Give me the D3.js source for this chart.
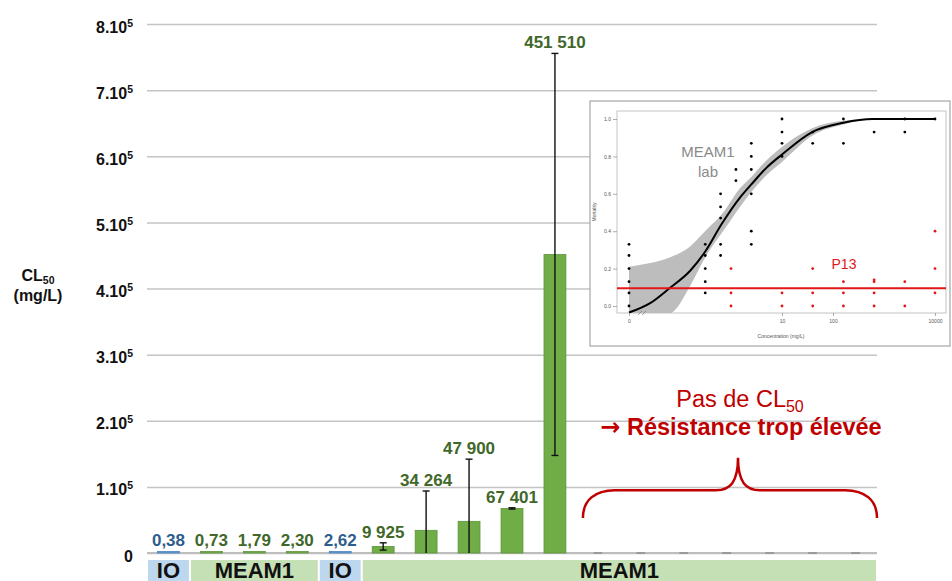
<!DOCTYPE html>
<html>
<head>
<meta charset="utf-8">
<script src="https://cdn.jsdelivr.net/npm/d3@7"></script>
<style>
body { margin: 0; background: #fff; }
svg { display: block; font-family: "Liberation Sans", Arial, sans-serif; }
</style>
</head>
<body>
<svg id="chart" width="952" height="581"></svg>
<script>
// ---- data ----
var categories = ["s1","s2","s3","s4","s5","s6","s7","s8","s9","s10","s11","s12","s13","s14","s15","s16","s17"];
var groupNames = ["IO", "MEAM1", "IO", "MEAM1"];
var groupSizes = [1, 3, 1, 12];
var values = [0.38, 0.73, 1.79, 2.30, 2.62, 9925, 34264, 47900, 67401, 451510, null, null, null, null, null, null, null];
var errors = [0, 0, 0, 0, 0, 5500, 59500, 94000, 1000, 304000, null, null, null, null, null, null, null];
var valueLabels = ["0,38", "0,73", "1,79", "2,30", "2,62", "9 925", "34 264", "47 900", "67 401", "451 510"];
var yTicks = [0, 1e5, 2e5, 3e5, 4e5, 5e5, 6e5, 7e5, 8e5];
var yTickLabels = ["0", "1.10", "2.10", "3.10", "4.10", "5.10", "6.10", "7.10", "8.10"];

// inset (dose-response) data
var labConc = [0,0,0,0,0,0, 0.3125,0.3125,0.3125,0.3125,0.3125, 0.625,0.625,0.625,0.625,0.625,
  1.25,1.25, 2.5,2.5,2.5,2.5,2.5,2.5, 10,10,10,10, 40,40, 160,160, 640, 2560,2560, 10000];
var labMort = [0.33,0.27,0.2,0.13,0.07,0, 0.33,0.27,0.2,0.13,0.07, 0.33,0.27,0.6,0.53,0.47,
  0.73,0.67, 0.87,0.8,0.73,0.6,0.4,0.33, 1,0.93,0.87,0.8, 0.93,0.87, 1,0.87, 0.93, 1,0.93, 1];
var p13Conc = [1,1,1, 10,10, 40,40,40, 160,160,160, 640,640,640,640, 2560,2560, 10000,10000,10000];
var p13Mort = [0.2,0.07,0, 0.07,0, 0.2,0.07,0, 0.13,0.07,0, 0.14,0.13,0.07,0, 0.13,0, 0.4,0.2,0.07];
var p13Fit = 0.095;
var fitConc = [0, 0.026, 0.063, 0.16, 0.31, 0.66, 1.5, 2.5, 5, 10, 39, 160, 600, 10000];
var fitMort = [-0.035, 0.015, 0.096, 0.19, 0.29, 0.44, 0.58, 0.65, 0.74, 0.81, 0.93, 0.98, 1.0, 1.0];
var bandHigh = [0.21, 0.23, 0.26, 0.32, 0.40, 0.49, 0.63, 0.69, 0.78, 0.85, 0.95, 0.99, 1.0, 1.0];
var bandLow = [-0.05, -0.05, -0.04, 0.11, 0.26, 0.39, 0.53, 0.61, 0.70, 0.77, 0.91, 0.97, 1.0, 1.0];

var groupColor = { IO: "#5b9bd5", MEAM1: "#70ad47" };
var labelColor = { IO: "#2e5d8c", MEAM1: "#41672a" };
var bandColor = { IO: "#bdd7ee", MEAM1: "#c5e0b4" };

// group of each category
var catGroup = [];
groupNames.forEach(function(g, i) {
	for (var k = 0; k < groupSizes[i]; k++) catGroup.push(g);
});

var svg = d3.select("#chart");

var x = d3.scaleBand()
	.domain(categories)
	.range([147, 877])
	.paddingInner(0.49)
	.paddingOuter(0.245);

var y = d3.scaleLinear()
	.domain([0, 8e5])
	.range([553, 24]);

// ** ------- GRID + Y AXIS ------- **
var axisY = d3.axisLeft(y)
	.tickValues(yTicks)
	.tickSize(-(x.range()[1] - x.range()[0]))
	.tickPadding(14)
	.tickFormat(function(d, i) { return yTickLabels[i]; });

var gy = svg.append("g")
	.attr("transform", "translate(" + x.range()[0] + ",0)")
	.call(axisY);
gy.select(".domain").remove();
gy.selectAll(".tick line").attr("stroke", "#c4c4c4").attr("stroke-width", 1.5);
gy.selectAll(".tick text")
	.attr("font-size", 16)
	.attr("font-weight", "bold")
	.attr("fill", "#111")
	.attr("font-family", "Liberation Sans, Arial, sans-serif")
	.attr("dy", "0.5em")
	.each(function(d) {
		if (d > 0) {
			d3.select(this).append("tspan")
				.attr("font-size", 10.5)
				.attr("dy", -6)
				.text("5");
		}
	});

svg.append("line")
	.attr("x1", x.range()[0]).attr("x2", x.range()[1])
	.attr("y1", y(0)).attr("y2", y(0))
	.attr("stroke", "#bdbdbd").attr("stroke-width", 2);

// y title
var yt = svg.append("text")
	.attr("x", 38).attr("y", 281)
	.attr("text-anchor", "middle")
	.attr("font-size", 16).attr("font-weight", "bold").attr("fill", "#111");
yt.append("tspan").text("CL");
yt.append("tspan").attr("font-size", 10.5).attr("dy", 3).text("50");
svg.append("text")
	.attr("x", 38).attr("y", 301)
	.attr("text-anchor", "middle")
	.attr("font-size", 16).attr("font-weight", "bold").attr("fill", "#111")
	.text("(mg/L)");

// ** ------- BARS ------- **
var idx = d3.range(categories.length);
var bw = x.bandwidth();

svg.append("g").selectAll("rect.bar")
	.data(idx.filter(function(i) { return values[i] !== null; }))
	.enter().append("rect")
	.attr("class", "bar")
	.attr("x", function(i) { return x(categories[i]); })
	.attr("y", function(i) { return Math.min(y(values[i]), y(0) - 1.5); })
	.attr("width", bw)
	.attr("height", function(i) { return Math.max(1.5, y(0) - y(values[i])); })
	.attr("fill", function(i) { return groupColor[catGroup[i]]; })
	.attr("stroke", function(i) { return catGroup[i] === "MEAM1" ? "#5e943a" : "#4a86c0"; })
	.attr("stroke-width", 0.8);

// empty categories: grey dash at zero
svg.append("g").selectAll("line.empty")
	.data(idx.filter(function(i) { return values[i] === null; }))
	.enter().append("line")
	.attr("x1", function(i) { return x(categories[i]) + bw * 0.3; })
	.attr("x2", function(i) { return x(categories[i]) + bw * 0.7; })
	.attr("y1", y(0)).attr("y2", y(0))
	.attr("stroke", "#9a9a9a").attr("stroke-width", 2);

// error bars
var eb = svg.append("g").attr("stroke", "#111").attr("stroke-width", 1.4);
idx.filter(function(i) { return errors[i] > 0; }).forEach(function(i) {
	var cx = x(categories[i]) + bw / 2;
	var top = y(values[i] + errors[i]);
	var lowV = values[i] - errors[i];
	var bot = y(Math.max(0, lowV));
	eb.append("line").attr("x1", cx).attr("x2", cx).attr("y1", top).attr("y2", bot);
	eb.append("line").attr("x1", cx - 3.5).attr("x2", cx + 3.5).attr("y1", top).attr("y2", top);
	if (lowV > 0) eb.append("line").attr("x1", cx - 3.5).attr("x2", cx + 3.5).attr("y1", bot).attr("y2", bot);
});

// value labels
svg.append("g").selectAll("text")
	.data(idx.filter(function(i) { return values[i] !== null; }))
	.enter().append("text")
	.attr("x", function(i) { return x(categories[i]) + bw / 2; })
	.attr("y", function(i) { return y(values[i] + (errors[i] || 0)) - (errors[i] ? 5 : 7); })
	.attr("text-anchor", "middle")
	.attr("font-size", 17).attr("font-weight", "bold")
	.attr("fill", function(i) { return labelColor[catGroup[i]]; })
	.text(function(i) { return valueLabels[i]; });

// ** ------- GROUP BANDS ------- **
var step = x.step();
var start = 0;
groupNames.forEach(function(g, k) {
	var left = x(categories[start]) - step * x.paddingInner() / 2;
	var w = groupSizes[k] * step;
	svg.append("rect")
		.attr("x", left + 1).attr("y", 560)
		.attr("width", w - 2).attr("height", 30)
		.attr("fill", bandColor[g]);
	svg.append("text")
		.attr("x", left + w / 2).attr("y", 578)
		.attr("text-anchor", "middle")
		.attr("font-size", 22).attr("font-weight", "bold").attr("fill", "#111")
		.text(g);
	start += groupSizes[k];
});

// ** ------- ANNOTATION ------- **
var firstEmpty = values.indexOf(null);
var bx0 = x(categories[firstEmpty]) - 4;
var bx1 = x.range()[1];
var bxm = 738;
var yEnd = y(53000), yMid = y(95000), yTip = y(144000);
var bp = d3.path();
bp.moveTo(bx0, yEnd);
bp.bezierCurveTo(bx0, yMid + 10, bx0 + 12, yMid, bx0 + 32, yMid);
bp.lineTo(bxm - 22, yMid);
bp.bezierCurveTo(bxm - 8, yMid, bxm, yMid - 8, bxm, yTip);
bp.bezierCurveTo(bxm, yMid - 8, bxm + 8, yMid, bxm + 22, yMid);
bp.lineTo(bx1 - 32, yMid);
bp.bezierCurveTo(bx1 - 12, yMid, bx1, yMid + 10, bx1, yEnd);
svg.append("path")
	.attr("d", bp.toString())
	.attr("fill", "none")
	.attr("stroke", "#c00000")
	.attr("stroke-width", 2.5);

var a1 = svg.append("text")
	.attr("x", 740).attr("y", 407)
	.attr("text-anchor", "middle")
	.attr("font-size", 23.5).attr("fill", "#c00000");
a1.append("tspan").text("Pas de CL");
a1.append("tspan").attr("font-size", 16).attr("dy", 5).text("50");
var a2 = svg.append("text")
	.attr("x", 741).attr("y", 435)
	.attr("text-anchor", "middle")
	.attr("font-size", 23.5).attr("font-weight", "bold").attr("fill", "#c00000");
a2.append("tspan").attr("font-family", "DejaVu Sans").attr("font-size", 24).text("\u2192");
a2.append("tspan").text(" R\u00e9sistance trop \u00e9lev\u00e9e");

// ** ------- INSET ------- **
var inset = svg.append("g").attr("class", "inset");
inset.append("rect")
	.attr("x", 590).attr("y", 101).attr("width", 360).attr("height", 245)
	.attr("fill", "#fff").attr("stroke", "#a6a6a6").attr("stroke-width", 1.2);

var P = { l: 617, r: 946, t: 111, b: 313 };
inset.append("rect")
	.attr("x", P.l).attr("y", P.t).attr("width", P.r - P.l).attr("height", P.b - P.t)
	.attr("fill", "#fff").attr("stroke", "#b5b5b5").attr("stroke-width", 0.8);

var ix = d3.scaleLog().domain([0.01, 10000]).range([629, 935]);
var iy = d3.scaleLinear().domain([0, 1]).range([306, 119]);
function cx(c) { return ix(c === 0 ? 0.01 : c); }

inset.append("clipPath").attr("id", "panel-clip")
	.append("rect").attr("x", P.l).attr("y", P.t).attr("width", P.r - P.l).attr("height", P.b - P.t);
var panel = inset.append("g").attr("clip-path", "url(#panel-clip)");

var area = d3.area()
	.x(function(d, i) { return cx(fitConc[i]); })
	.y0(function(d, i) { return iy(bandLow[i]); })
	.y1(function(d, i) { return iy(bandHigh[i]); })
	.curve(d3.curveMonotoneX);
panel.append("path").datum(fitConc)
	.attr("d", area).attr("fill", "#bdbdbd");

var line = d3.line()
	.x(function(d, i) { return cx(fitConc[i]); })
	.y(function(d, i) { return iy(fitMort[i]); })
	.curve(d3.curveMonotoneX);
panel.append("path").datum(fitConc)
	.attr("d", line).attr("fill", "none").attr("stroke", "#000").attr("stroke-width", 2);

panel.append("line")
	.attr("x1", P.l).attr("x2", P.r)
	.attr("y1", iy(p13Fit)).attr("y2", iy(p13Fit))
	.attr("stroke", "#e01818").attr("stroke-width", 2);

panel.selectAll("circle.lab").data(labConc).enter().append("circle")
	.attr("cx", function(d) { return cx(d); })
	.attr("cy", function(d, i) { return iy(labMort[i]); })
	.attr("r", 1.4).attr("fill", "#000");
panel.selectAll("circle.p13").data(p13Conc).enter().append("circle")
	.attr("cx", function(d) { return cx(d); })
	.attr("cy", function(d, i) { return iy(p13Mort[i]); })
	.attr("r", 1.4).attr("fill", "#e01818");

// inset axes
var iAxisY = d3.axisLeft(iy).tickValues([0, 0.2, 0.4, 0.6, 0.8, 1]).tickFormat(d3.format(".1f")).tickSize(4).tickPadding(2);
var giy = inset.append("g").attr("transform", "translate(" + P.l + ",0)").call(iAxisY);
giy.select(".domain").remove();
giy.selectAll("text").attr("font-size", 5).attr("fill", "#555");
giy.selectAll("line").attr("stroke", "#777").attr("stroke-width", 0.6);

var iAxisX = d3.axisBottom(ix).tickValues([0.01, 10, 100, 10000])
	.tickFormat(function(d) { return d === 0.01 ? "0" : String(d); }).tickSize(3).tickPadding(3);
var gix = inset.append("g").attr("transform", "translate(0," + P.b + ")").call(iAxisX);
gix.select(".domain").remove();
gix.selectAll("text").attr("font-size", 5).attr("fill", "#555");
gix.selectAll("line").attr("stroke", "#777").attr("stroke-width", 0.6);

// axis break
inset.append("path")
	.attr("d", "M638,315 L642,311 M642,315 L646,311")
	.attr("stroke", "#777").attr("stroke-width", 0.7).attr("fill", "none");

inset.append("text")
	.attr("transform", "translate(596,212) rotate(-90)")
	.attr("text-anchor", "middle").attr("font-size", 5).attr("fill", "#555")
	.text("Mortality");
inset.append("text")
	.attr("x", 781).attr("y", 338)
	.attr("text-anchor", "middle").attr("font-size", 5).attr("fill", "#555")
	.text("Concentration (mg/L)");

inset.append("text")
	.attr("x", 708).attr("y", 157).attr("text-anchor", "middle")
	.attr("font-size", 15).attr("fill", "#8a8a8a").text("MEAM1");
inset.append("text")
	.attr("x", 708).attr("y", 177).attr("text-anchor", "middle")
	.attr("font-size", 15).attr("fill", "#8a8a8a").text("lab");
inset.append("text")
	.attr("x", 844).attr("y", 269).attr("text-anchor", "middle")
	.attr("font-size", 14).attr("fill", "#e01818").text("P13");
</script>
</body>
</html>
